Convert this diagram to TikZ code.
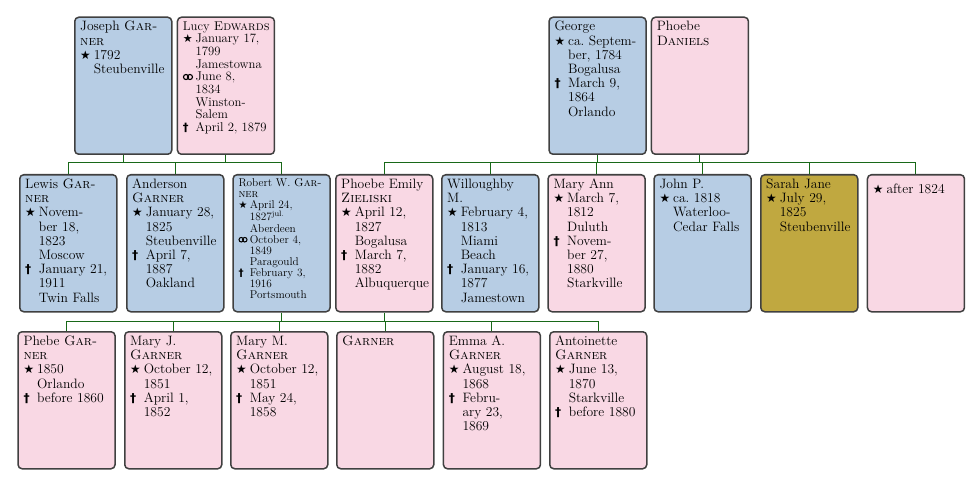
\documentclass[tikz,border=0pt]{standalone}
\usepackage{fontspec}
\usepackage{graphicx}
\newfontfamily\symfont{DejaVu Sans}
\definecolor{maleblue}{RGB}{183,205,228}
\definecolor{femalepink}{RGB}{249,216,228}
\definecolor{olivebox}{RGB}{192,168,64}
\definecolor{boxborder}{RGB}{64,64,64}
\definecolor{famgreen}{RGB}{24,104,24}
\newcommand\gB{\scalebox{0.87}{\symfont ★}}
\newcommand\gM{\tikz[baseline=0pt,line width=0.09em]{\draw (0.24em,0.3em) circle (0.2em); \draw (0.55em,0.3em) circle (0.2em);}}
\newcommand\gD{\scalebox{0.9}{\symfont\bfseries †}}
\newcommand\gev[2]{\par\noindent\hangindent=1em\hangafter=1\makebox[1em][l]{#1}#2\par}
\newcommand\gname[1]{\noindent\rule{0pt}{1.05em}#1\par}
\tikzset{
  pbox/.style={draw=boxborder, line width=1.5pt, rounded corners=4pt,
    minimum width=97pt, minimum height=137pt, anchor=north west, inner sep=0pt},
  male/.style={pbox, fill=maleblue},
  female/.style={pbox, fill=femalepink},
  olive/.style={pbox, fill=olivebox},
  ptext/.style={anchor=north west, inner sep=0pt, text width=95pt, align=left,
    font=\fontsize{13.6}{14.2}\selectfont},
  smalltext/.style={font=\fontsize{11.3}{11.1}\selectfont},
  midtext/.style={font=\fontsize{12.7}{12.7}\selectfont},
  famline/.style={draw=famgreen, line width=1pt}
}
\newcommand\pers[6][]{%
  \node[#3] (#2) at (#4,#5) {};
  \node[ptext,#1] (#2-t) at ([xshift=6pt]#2.north west) {#6};
}
\begin{document}
\begin{tikzpicture}[x=1pt,y=-1pt]
\useasboundingbox (0,0) rectangle (972,484);
\coordinate (f1) at (174,163);
\coordinate (f2) at (648,163);
\coordinate (f3) at (331,321);
% row 1
\pers{joseph}{male}{74}{16.5}{\gname{Joseph \textsc{Gar-}\newline\textsc{ner}}\gev{\gB}{1792\newline Steubenville}}
\pers[midtext]{lucy}{female}{176.7}{16.5}{\gname{Lucy \textsc{Edwards}}\gev{\gB}{January 17,\newline 1799\newline Jamestowna}\gev{\gM}{June 8,\newline 1834\newline Winston-\newline Salem}\gev{\gD}{April 2, 1879}}
\pers{george}{male}{548.3}{16.5}{\gname{George}\gev{\gB}{ca.\ Septem-\newline ber, 1784\newline Bogalusa}\gev{\gD}{March 9,\newline 1864\newline Orlando}}
\pers{phoebed}{female}{650.7}{16.5}{\gname{Phoebe\newline\textsc{Daniels}}}
% row 2
\pers{lewis}{male}{19}{174}{\gname{Lewis \textsc{Gar-}\newline\textsc{ner}}\gev{\gB}{Novem-\newline ber 18,\newline 1823\newline Moscow}\gev{\gD}{January 21,\newline 1911\newline Twin Falls}}
\pers{anderson}{male}{126}{174}{\gname{Anderson\newline\textsc{Garner}}\gev{\gB}{January 28,\newline 1825\newline Steubenville}\gev{\gD}{April 7,\newline 1887\newline Oakland}}
\pers[smalltext]{robert}{male}{232.3}{174}{\gname{Robert W. \textsc{Gar-}\newline\textsc{ner}}\gev{\gB}{April 24,\newline 1827\textsuperscript{jul.}\newline Aberdeen}\gev{\gM}{October 4,\newline 1849\newline Paragould}\gev{\gD}{February 3,\newline 1916\newline Portsmouth}}
\pers{phoebee}{female}{335}{174}{\gname{Phoebe Emily\newline\textsc{Zieliski}}\gev{\gB}{April 12,\newline 1827\newline Bogalusa}\gev{\gD}{March 7,\newline 1882\newline Albuquerque}}
\pers{willoughby}{male}{441}{174}{\gname{Willoughby\newline M.}\gev{\gB}{February 4,\newline 1813\newline Miami\newline Beach}\gev{\gD}{January 16,\newline 1877\newline Jamestown}}
\pers{maryann}{female}{547.3}{174}{\gname{Mary Ann}\gev{\gB}{March 7,\newline 1812\newline Duluth}\gev{\gD}{Novem-\newline ber 27,\newline 1880\newline Starkville}}
\pers{john}{male}{653.3}{174}{\gname{John P.}\gev{\gB}{ca.\ 1818\newline Waterloo-\newline Cedar Falls}}
\pers{sarah}{olive}{760}{174}{\gname{Sarah Jane}\gev{\gB}{July 29,\newline 1825\newline Steubenville}}
\pers{after}{female}{866.7}{174}{\gev{\gB}{\rule{0pt}{1.37em}after 1824}}
% row 3
\pers{phebe}{female}{17.3}{331}{\gname{Phebe \textsc{Gar-}\newline\textsc{ner}}\gev{\gB}{1850\newline Orlando}\gev{\gD}{before 1860}}
\pers{maryj}{female}{124}{331}{\gname{Mary J.\newline\textsc{Garner}}\gev{\gB}{October 12,\newline 1851}\gev{\gD}{April 1,\newline 1852}}
\pers{marym}{female}{230}{331}{\gname{Mary M.\newline\textsc{Garner}}\gev{\gB}{October 12,\newline 1851}\gev{\gD}{May 24,\newline 1858}}
\pers{garner}{female}{336}{331}{\gname{\textsc{Garner}}}
\pers{emma}{female}{442.7}{331}{\gname{Emma A.\newline\textsc{Garner}}\gev{\gB}{August 18,\newline 1868}\gev{\gD}{Febru-\newline ary 23,\newline 1869}}
\pers{antoinette}{female}{549}{331}{\gname{Antoinette\newline\textsc{Garner}}\gev{\gB}{June 13,\newline 1870\newline Starkville}\gev{\gD}{before 1880}}
% connectors: one bar per family, stubs to parents and children
\draw[famline] (lewis.north |- f1) -- (robert.north |- f1);
\foreach \c in {joseph,lucy} \draw[famline] (\c.south) -- (\c.south |- f1);
\foreach \c in {lewis,anderson,robert} \draw[famline] (\c.north |- f1) -- (\c.north);
\draw[famline] (phoebee.north |- f2) -- (after.north |- f2);
\foreach \c in {george,phoebed} \draw[famline] (\c.south) -- (\c.south |- f2);
\foreach \c in {phoebee,willoughby,maryann,john,sarah,after} \draw[famline] (\c.north |- f2) -- (\c.north);
\draw[famline] (phebe.north |- f3) -- (antoinette.north |- f3);
\foreach \c in {robert,phoebee} \draw[famline] (\c.south) -- (\c.south |- f3);
\foreach \c in {phebe,maryj,marym,garner,emma,antoinette} \draw[famline] (\c.north |- f3) -- (\c.north);
\end{tikzpicture}
\end{document}
